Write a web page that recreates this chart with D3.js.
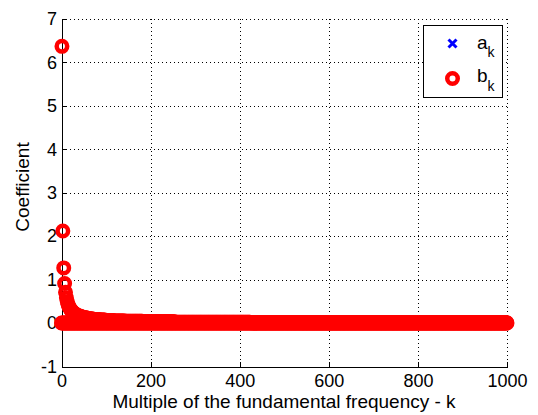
<!DOCTYPE html>
<html>
<head>
<meta charset="utf-8">
<script src="https://cdn.jsdelivr.net/npm/d3@7"></script>
<style>
  html, body { margin: 0; padding: 0; background: #fff; }
  svg { display: block; }
  text { font-family: "Liberation Sans", Arial, Helvetica, sans-serif; }
</style>
</head>
<body>
<svg id="chart" width="538" height="415"></svg>
<script>
// Harmonic index k (multiple of the fundamental frequency)
const kValues = d3.range(0, 1001);

// Cosine coefficients a_k, k = 0..1000
const aK = [
0,0,0,0,0,0,0,0,0,0,0,0,0,0,0,0,0,0,0,0,
0,0,0,0,0,0,0,0,0,0,0,0,0,0,0,0,0,0,0,0,
0,0,0,0,0,0,0,0,0,0,0,0,0,0,0,0,0,0,0,0,
0,0,0,0,0,0,0,0,0,0,0,0,0,0,0,0,0,0,0,0,
0,0,0,0,0,0,0,0,0,0,0,0,0,0,0,0,0,0,0,0,
0,0,0,0,0,0,0,0,0,0,0,0,0,0,0,0,0,0,0,0,
0,0,0,0,0,0,0,0,0,0,0,0,0,0,0,0,0,0,0,0,
0,0,0,0,0,0,0,0,0,0,0,0,0,0,0,0,0,0,0,0,
0,0,0,0,0,0,0,0,0,0,0,0,0,0,0,0,0,0,0,0,
0,0,0,0,0,0,0,0,0,0,0,0,0,0,0,0,0,0,0,0,
0,0,0,0,0,0,0,0,0,0,0,0,0,0,0,0,0,0,0,0,
0,0,0,0,0,0,0,0,0,0,0,0,0,0,0,0,0,0,0,0,
0,0,0,0,0,0,0,0,0,0,0,0,0,0,0,0,0,0,0,0,
0,0,0,0,0,0,0,0,0,0,0,0,0,0,0,0,0,0,0,0,
0,0,0,0,0,0,0,0,0,0,0,0,0,0,0,0,0,0,0,0,
0,0,0,0,0,0,0,0,0,0,0,0,0,0,0,0,0,0,0,0,
0,0,0,0,0,0,0,0,0,0,0,0,0,0,0,0,0,0,0,0,
0,0,0,0,0,0,0,0,0,0,0,0,0,0,0,0,0,0,0,0,
0,0,0,0,0,0,0,0,0,0,0,0,0,0,0,0,0,0,0,0,
0,0,0,0,0,0,0,0,0,0,0,0,0,0,0,0,0,0,0,0,
0,0,0,0,0,0,0,0,0,0,0,0,0,0,0,0,0,0,0,0,
0,0,0,0,0,0,0,0,0,0,0,0,0,0,0,0,0,0,0,0,
0,0,0,0,0,0,0,0,0,0,0,0,0,0,0,0,0,0,0,0,
0,0,0,0,0,0,0,0,0,0,0,0,0,0,0,0,0,0,0,0,
0,0,0,0,0,0,0,0,0,0,0,0,0,0,0,0,0,0,0,0,
0,0,0,0,0,0,0,0,0,0,0,0,0,0,0,0,0,0,0,0,
0,0,0,0,0,0,0,0,0,0,0,0,0,0,0,0,0,0,0,0,
0,0,0,0,0,0,0,0,0,0,0,0,0,0,0,0,0,0,0,0,
0,0,0,0,0,0,0,0,0,0,0,0,0,0,0,0,0,0,0,0,
0,0,0,0,0,0,0,0,0,0,0,0,0,0,0,0,0,0,0,0,
0,0,0,0,0,0,0,0,0,0,0,0,0,0,0,0,0,0,0,0,
0,0,0,0,0,0,0,0,0,0,0,0,0,0,0,0,0,0,0,0,
0,0,0,0,0,0,0,0,0,0,0,0,0,0,0,0,0,0,0,0,
0,0,0,0,0,0,0,0,0,0,0,0,0,0,0,0,0,0,0,0,
0,0,0,0,0,0,0,0,0,0,0,0,0,0,0,0,0,0,0,0,
0,0,0,0,0,0,0,0,0,0,0,0,0,0,0,0,0,0,0,0,
0,0,0,0,0,0,0,0,0,0,0,0,0,0,0,0,0,0,0,0,
0,0,0,0,0,0,0,0,0,0,0,0,0,0,0,0,0,0,0,0,
0,0,0,0,0,0,0,0,0,0,0,0,0,0,0,0,0,0,0,0,
0,0,0,0,0,0,0,0,0,0,0,0,0,0,0,0,0,0,0,0,
0,0,0,0,0,0,0,0,0,0,0,0,0,0,0,0,0,0,0,0,
0,0,0,0,0,0,0,0,0,0,0,0,0,0,0,0,0,0,0,0,
0,0,0,0,0,0,0,0,0,0,0,0,0,0,0,0,0,0,0,0,
0,0,0,0,0,0,0,0,0,0,0,0,0,0,0,0,0,0,0,0,
0,0,0,0,0,0,0,0,0,0,0,0,0,0,0,0,0,0,0,0,
0,0,0,0,0,0,0,0,0,0,0,0,0,0,0,0,0,0,0,0,
0,0,0,0,0,0,0,0,0,0,0,0,0,0,0,0,0,0,0,0,
0,0,0,0,0,0,0,0,0,0,0,0,0,0,0,0,0,0,0,0,
0,0,0,0,0,0,0,0,0,0,0,0,0,0,0,0,0,0,0,0,
0,0,0,0,0,0,0,0,0,0,0,0,0,0,0,0,0,0,0,0,
0
];

// Sine coefficients b_k, k = 0..1000 (odd harmonics only)
const bK = [
0,6.37,0,2.12,0,1.27,0,0.91,0,0.71,0,0.58,0,0.49,0,0.42,0,0.37,0,0.34,
0,0.30,0,0.28,0,0.25,0,0.24,0,0.22,0,0.21,0,0.19,0,0.18,0,0.17,0,0.16,
0,0.16,0,0.15,0,0.14,0,0.14,0,0.13,0,0.12,0,0.12,0,0.12,0,0.11,0,0.11,
0,0.10,0,0.10,0,0.10,0,0.10,0,0.09,0,0.09,0,0.09,0,0.08,0,0.08,0,0.08,
0,0.08,0,0.08,0,0.07,0,0.07,0,0.07,0,0.07,0,0.07,0,0.07,0,0.07,0,0.06,
0,0.06,0,0.06,0,0.06,0,0.06,0,0.06,0,0.06,0,0.06,0,0.06,0,0.05,0,0.05,
0,0.05,0,0.05,0,0.05,0,0.05,0,0.05,0,0.05,0,0.05,0,0.05,0,0.05,0,0.05,
0,0.05,0,0.04,0,0.04,0,0.04,0,0.04,0,0.04,0,0.04,0,0.04,0,0.04,0,0.04,
0,0.04,0,0.04,0,0.04,0,0.04,0,0.04,0,0.04,0,0.04,0,0.04,0,0.04,0,0.04,
0,0.04,0,0.03,0,0.03,0,0.03,0,0.03,0,0.03,0,0.03,0,0.03,0,0.03,0,0.03,
0,0.03,0,0.03,0,0.03,0,0.03,0,0.03,0,0.03,0,0.03,0,0.03,0,0.03,0,0.03,
0,0.03,0,0.03,0,0.03,0,0.03,0,0.03,0,0.03,0,0.03,0,0.03,0,0.03,0,0.03,
0,0.03,0,0.03,0,0.03,0,0.03,0,0.03,0,0.03,0,0.03,0,0.02,0,0.02,0,0.02,
0,0.02,0,0.02,0,0.02,0,0.02,0,0.02,0,0.02,0,0.02,0,0.02,0,0.02,0,0.02,
0,0.02,0,0.02,0,0.02,0,0.02,0,0.02,0,0.02,0,0.02,0,0.02,0,0.02,0,0.02,
0,0.02,0,0.02,0,0.02,0,0.02,0,0.02,0,0.02,0,0.02,0,0.02,0,0.02,0,0.02,
0,0.02,0,0.02,0,0.02,0,0.02,0,0.02,0,0.02,0,0.02,0,0.02,0,0.02,0,0.02,
0,0.02,0,0.02,0,0.02,0,0.02,0,0.02,0,0.02,0,0.02,0,0.02,0,0.02,0,0.02,
0,0.02,0,0.02,0,0.02,0,0.02,0,0.02,0,0.02,0,0.02,0,0.02,0,0.02,0,0.02,
0,0.02,0,0.02,0,0.02,0,0.02,0,0.02,0,0.02,0,0.02,0,0.02,0,0.02,0,0.02,
0,0.02,0,0.02,0,0.02,0,0.02,0,0.02,0,0.02,0,0.02,0,0.02,0,0.02,0,0.02,
0,0.02,0,0.02,0,0.01,0,0.01,0,0.01,0,0.01,0,0.01,0,0.01,0,0.01,0,0.01,
0,0.01,0,0.01,0,0.01,0,0.01,0,0.01,0,0.01,0,0.01,0,0.01,0,0.01,0,0.01,
0,0.01,0,0.01,0,0.01,0,0.01,0,0.01,0,0.01,0,0.01,0,0.01,0,0.01,0,0.01,
0,0.01,0,0.01,0,0.01,0,0.01,0,0.01,0,0.01,0,0.01,0,0.01,0,0.01,0,0.01,
0,0.01,0,0.01,0,0.01,0,0.01,0,0.01,0,0.01,0,0.01,0,0.01,0,0.01,0,0.01,
0,0.01,0,0.01,0,0.01,0,0.01,0,0.01,0,0.01,0,0.01,0,0.01,0,0.01,0,0.01,
0,0.01,0,0.01,0,0.01,0,0.01,0,0.01,0,0.01,0,0.01,0,0.01,0,0.01,0,0.01,
0,0.01,0,0.01,0,0.01,0,0.01,0,0.01,0,0.01,0,0.01,0,0.01,0,0.01,0,0.01,
0,0.01,0,0.01,0,0.01,0,0.01,0,0.01,0,0.01,0,0.01,0,0.01,0,0.01,0,0.01,
0,0.01,0,0.01,0,0.01,0,0.01,0,0.01,0,0.01,0,0.01,0,0.01,0,0.01,0,0.01,
0,0.01,0,0.01,0,0.01,0,0.01,0,0.01,0,0.01,0,0.01,0,0.01,0,0.01,0,0.01,
0,0.01,0,0.01,0,0.01,0,0.01,0,0.01,0,0.01,0,0.01,0,0.01,0,0.01,0,0.01,
0,0.01,0,0.01,0,0.01,0,0.01,0,0.01,0,0.01,0,0.01,0,0.01,0,0.01,0,0.01,
0,0.01,0,0.01,0,0.01,0,0.01,0,0.01,0,0.01,0,0.01,0,0.01,0,0.01,0,0.01,
0,0.01,0,0.01,0,0.01,0,0.01,0,0.01,0,0.01,0,0.01,0,0.01,0,0.01,0,0.01,
0,0.01,0,0.01,0,0.01,0,0.01,0,0.01,0,0.01,0,0.01,0,0.01,0,0.01,0,0.01,
0,0.01,0,0.01,0,0.01,0,0.01,0,0.01,0,0.01,0,0.01,0,0.01,0,0.01,0,0.01,
0,0.01,0,0.01,0,0.01,0,0.01,0,0.01,0,0.01,0,0.01,0,0.01,0,0.01,0,0.01,
0,0.01,0,0.01,0,0.01,0,0.01,0,0.01,0,0.01,0,0.01,0,0.01,0,0.01,0,0.01,
0,0.01,0,0.01,0,0.01,0,0.01,0,0.01,0,0.01,0,0.01,0,0.01,0,0.01,0,0.01,
0,0.01,0,0.01,0,0.01,0,0.01,0,0.01,0,0.01,0,0.01,0,0.01,0,0.01,0,0.01,
0,0.01,0,0.01,0,0.01,0,0.01,0,0.01,0,0.01,0,0.01,0,0.01,0,0.01,0,0.01,
0,0.01,0,0.01,0,0.01,0,0.01,0,0.01,0,0.01,0,0.01,0,0.01,0,0.01,0,0.01,
0,0.01,0,0.01,0,0.01,0,0.01,0,0.01,0,0.01,0,0.01,0,0.01,0,0.01,0,0.01,
0,0.01,0,0.01,0,0.01,0,0.01,0,0.01,0,0.01,0,0.01,0,0.01,0,0.01,0,0.01,
0,0.01,0,0.01,0,0.01,0,0.01,0,0.01,0,0.01,0,0.01,0,0.01,0,0.01,0,0.01,
0,0.01,0,0.01,0,0.01,0,0.01,0,0.01,0,0.01,0,0.01,0,0.01,0,0.01,0,0.01,
0,0.01,0,0.01,0,0.01,0,0.01,0,0.01,0,0.01,0,0.01,0,0.01,0,0.01,0,0.01,
0,0.01,0,0.01,0,0.01,0,0.01,0,0.01,0,0.01,0,0.01,0,0.01,0,0.01,0,0.01,
0
];

const xTicks = [0, 200, 400, 600, 800, 1000];
const yTicks = [-1, 0, 1, 2, 3, 4, 5, 6, 7];
const seriesNames = ["a", "b"];
const seriesSub = "k";
const xTitle = "Multiple of the fundamental frequency - k";
const yTitle = "Coefficient";

const svg = d3.select("#chart");
svg.append("rect").attr("width", 538).attr("height", 415).attr("fill", "#fff");

const x = d3.scaleLinear().domain([0, 1000]).range([61.5, 507]);
const y = d3.scaleLinear().domain([-1, 7]).range([366.5, 19]);

// dotted grid
const grid = svg.append("g")
  .attr("stroke", "#000").attr("stroke-width", 1)
  .attr("stroke-dasharray", "1,3").attr("shape-rendering", "crispEdges");
grid.selectAll("line.gx").data(xTicks.filter(t => t > 0)).join("line")
  .attr("class", "gx")
  .attr("x1", d => Math.round(x(d)) + 0.5).attr("x2", d => Math.round(x(d)) + 0.5)
  .attr("y1", y(7)).attr("y2", y(-1));
grid.selectAll("line.gy").data(yTicks.filter(t => t > -1)).join("line")
  .attr("class", "gy")
  .attr("y1", d => Math.round(y(d)) + 0.5).attr("y2", d => Math.round(y(d)) + 0.5)
  .attr("x1", x(0)).attr("x2", x(1000));

// axes with inward ticks; plain hyphen for negative labels
const plainLabel = d => String(d);
const xAxis = svg.append("g")
  .attr("transform", `translate(0,${y(-1)})`)
  .call(d3.axisBottom(x).tickValues(xTicks).tickFormat(plainLabel)
    .tickSizeInner(-5).tickSizeOuter(0).tickPadding(7.5));
const yAxis = svg.append("g")
  .attr("transform", `translate(${x(0)},0)`)
  .call(d3.axisLeft(y).tickValues(yTicks).tickFormat(plainLabel)
    .tickSizeInner(-5).tickSizeOuter(0).tickPadding(4.5));

[xAxis, yAxis].forEach(g => {
  g.selectAll("path.domain").attr("stroke", "#000").attr("shape-rendering", "crispEdges");
  g.selectAll(".tick line").attr("stroke", "#000").attr("shape-rendering", "crispEdges");
  g.selectAll(".tick text")
    .attr("fill", "#000")
    .style("font-family", '"Liberation Sans", Arial, Helvetica, sans-serif')
    .style("font-size", "18px");
});

// axis titles
svg.append("text")
  .attr("x", 284).attr("y", 408)
  .attr("text-anchor", "middle")
  .style("font-size", "19px").attr("fill", "#000")
  .text(xTitle);
svg.append("text")
  .attr("transform", "translate(28.5,187) rotate(-90)")
  .attr("text-anchor", "middle")
  .style("font-size", "19px").attr("fill", "#000")
  .text(yTitle);

// a_k markers (blue crosses)
const pts = kValues.map((k, i) => ({ k, a: aK[i], b: bK[i] }));
const crossPath = s => `M${-s},${-s}L${s},${s}M${-s},${s}L${s},${-s}`;
svg.append("g")
  .attr("stroke", "#0000ff").attr("stroke-width", 3).attr("fill", "none")
  .selectAll("path").data(pts).join("path")
  .attr("transform", d => `translate(${x(d.k)},${y(d.a)})`)
  .attr("d", crossPath(4));

// b_k markers (red circles)
svg.append("g")
  .attr("stroke", "#ff0000").attr("stroke-width", 4.5).attr("fill", "none")
  .selectAll("circle").data(pts).join("circle")
  .attr("cx", d => x(d.k)).attr("cy", d => y(d.b)).attr("r", 5.25);

// legend
const lg = svg.append("g");
lg.append("rect")
  .attr("x", 423.5).attr("y", 25.5).attr("width", 79).attr("height", 72)
  .attr("fill", "#fff").attr("stroke", "#000").attr("shape-rendering", "crispEdges");
lg.append("path")
  .attr("transform", "translate(452.5,43.5)")
  .attr("d", crossPath(4))
  .attr("stroke", "#0000ff").attr("stroke-width", 3).attr("fill", "none");
lg.append("circle")
  .attr("cx", 452.5).attr("cy", 78.5).attr("r", 5.25)
  .attr("stroke", "#ff0000").attr("stroke-width", 4.5).attr("fill", "none");
const rowsY = [48.5, 82];
seriesNames.forEach((name, i) => {
  lg.append("text").attr("x", 477).attr("y", rowsY[i])
    .style("font-size", "19px").attr("fill", "#000").text(name);
  lg.append("text").attr("x", 487.5).attr("y", rowsY[i] + 8.5)
    .style("font-size", "14px").attr("fill", "#000").text(seriesSub);
});
</script>
</body>
</html>
